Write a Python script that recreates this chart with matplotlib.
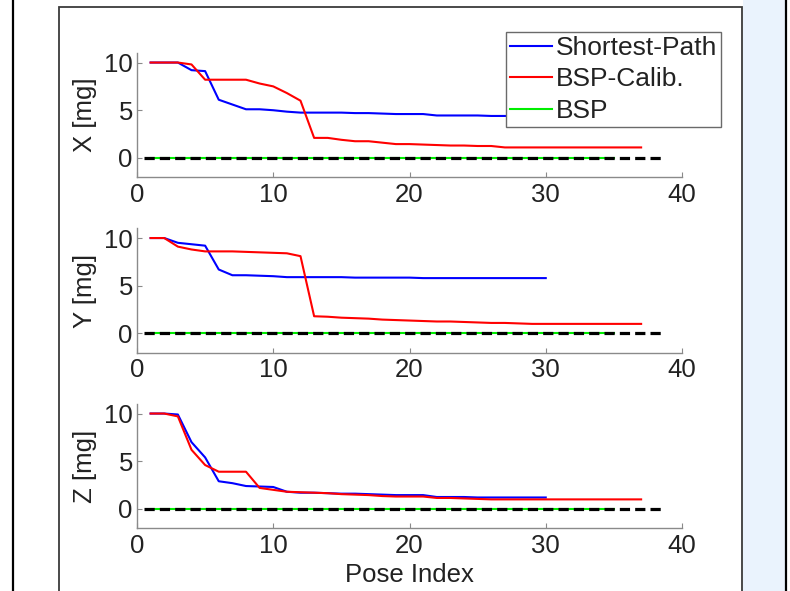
import matplotlib
matplotlib.use('Agg')
import matplotlib.pyplot as plt
from matplotlib.patches import Rectangle
from matplotlib.lines import Line2D

plt.rcParams['font.family'] = ['Liberation Sans', 'DejaVu Sans']

# ---------- data
pose_sp = list(range(1, 31))      # Shortest-Path poses
pose_calib = list(range(1, 38))   # BSP-Calib. poses
pose_bsp = list(range(1, 36))     # BSP poses
zero_span = [0.5, 38.5]           # dashed reference at 0

x_sp = [10, 10, 10, 9.2, 9.1, 6.1, 5.6, 5.1, 5.1, 5.0,
        4.85, 4.75, 4.75, 4.75, 4.75, 4.7, 4.7, 4.65, 4.6, 4.6,
        4.6, 4.45, 4.45, 4.45, 4.45, 4.4, 4.4, 4.4, 4.4, 4.4]
x_calib = [10, 10, 10, 9.8, 8.2, 8.2, 8.2, 8.2, 7.8, 7.5,
           6.8, 6.0, 2.1, 2.1, 1.9, 1.75, 1.75, 1.6, 1.45, 1.45,
           1.4, 1.35, 1.3, 1.3, 1.25, 1.25, 1.1, 1.1, 1.1, 1.1,
           1.1, 1.1, 1.1, 1.1, 1.1, 1.1, 1.1]

y_sp = [10, 10, 9.5, 9.35, 9.2, 6.7, 6.1, 6.1, 6.05, 6.0,
        5.9, 5.9, 5.9, 5.9, 5.9, 5.85, 5.85, 5.85, 5.85, 5.85,
        5.8, 5.8, 5.8, 5.8, 5.8, 5.8, 5.8, 5.8, 5.8, 5.8]
y_calib = [10, 10, 9.1, 8.8, 8.6, 8.6, 8.6, 8.55, 8.5, 8.45,
           8.4, 8.1, 1.8, 1.75, 1.65, 1.6, 1.55, 1.45, 1.4, 1.35,
           1.3, 1.25, 1.25, 1.2, 1.15, 1.1, 1.1, 1.05, 1.0, 1.0,
           1.0, 1.0, 1.0, 1.0, 1.0, 1.0, 1.0]

z_sp = [10, 10, 9.9, 7.0, 5.4, 2.9, 2.7, 2.4, 2.35, 2.3,
        1.8, 1.7, 1.7, 1.65, 1.6, 1.6, 1.55, 1.5, 1.45, 1.45,
        1.45, 1.25, 1.25, 1.25, 1.2, 1.2, 1.2, 1.2, 1.2, 1.2]
z_calib = [10, 10, 9.7, 6.2, 4.6, 3.9, 3.9, 3.9, 2.2, 2.0,
           1.8, 1.75, 1.7, 1.65, 1.55, 1.5, 1.45, 1.35, 1.3, 1.3,
           1.3, 1.15, 1.15, 1.1, 1.05, 1.0, 1.0, 1.0, 1.0, 1.0,
           1.0, 1.0, 1.0, 1.0, 1.0, 1.0, 1.0]

bsp = [0.0] * len(pose_bsp)

panels = [('X [mg]', x_sp, x_calib), ('Y [mg]', y_sp, y_calib), ('Z [mg]', z_sp, z_calib)]
labels = ['Shortest-Path', 'BSP-Calib.', 'BSP']

# ---------- figure
W, H = 790, 591
fig = plt.figure(figsize=(W/100, H/100), dpi=100)
fx = lambda px: px/W
fy = lambda py: 1 - py/H

# page decorations
fig.add_artist(Rectangle((fx(743), 0), fx(785)-fx(743), 1, transform=fig.transFigure,
                         facecolor='#eaf3fd', edgecolor='none', zorder=0))
fig.add_artist(Rectangle((fx(59), fy(600)), fx(742)-fx(59), fy(7)-fy(600), transform=fig.transFigure,
                         facecolor='white', edgecolor='#3a3a3a', lw=1.3, zorder=0))
for xp in (13, 786):
    fig.add_artist(Line2D([fx(xp), fx(xp)], [0, 1], transform=fig.transFigure,
                          color='black', lw=1.6, zorder=0))

tops = [53, 228.5, 404]
ax_h = 124
left, right = 137, 682
spine_col = '#8a8a8a'
txt_col = '#222222'

axes = []
for (ylab, sp, calib), top in zip(panels, tops):
    ax = fig.add_axes([fx(left), fy(top+ax_h), fx(right)-fx(left), ax_h/H])
    h1, = ax.plot(pose_sp, sp, color='#0000ff', lw=1.5, zorder=3)
    h2, = ax.plot(pose_calib, calib, color='#ff0000', lw=1.5, zorder=4)
    h3, = ax.plot(pose_bsp, bsp, color='#00ee00', lw=1.5, zorder=2)
    ax.hlines(0, zero_span[0], zero_span[1], colors='black', lw=2.3,
              linestyles=(0, (3.2, 1.6)), zorder=2.5)
    ax.set_xlim(0, 40)
    ax.set_ylim(-2, 11)
    ax.set_xticks([0, 10, 20, 30, 40])
    ax.set_yticks([0, 5, 10])
    for s in ('top', 'right'):
        ax.spines[s].set_visible(False)
    for s in ('left', 'bottom'):
        ax.spines[s].set_color(spine_col)
        ax.spines[s].set_linewidth(1.0)
    ax.tick_params(direction='in', length=3.5, width=0.8, color=spine_col,
                   labelsize=18.5, labelcolor=txt_col)
    ax.tick_params(axis='x', pad=4)
    ax.tick_params(axis='y', pad=3)
    ax.set_ylabel(ylab, fontsize=18.5, color=txt_col)
    ax.yaxis.set_label_coords(-0.073, 0.5)
    ax.patch.set_alpha(0)
    axes.append(ax)
    handles = [h1, h2, h3]

axes[-1].set_xlabel('Pose Index', fontsize=18.5, color=txt_col, labelpad=4)

leg = fig.legend(handles, labels, loc='upper right',
                 bbox_to_anchor=(fx(721), fy(32)), bbox_transform=fig.transFigure,
                 fontsize=19, frameon=True, fancybox=False, framealpha=1,
                 edgecolor='#6a6a6a', borderpad=0.15, handlelength=1.6,
                 handletextpad=0.12, labelspacing=0.28, borderaxespad=0)
leg.get_frame().set_linewidth(1.0)
for t in leg.get_texts():
    t.set_color(txt_col)

fig.savefig('out.png', dpi=100, facecolor='white')
